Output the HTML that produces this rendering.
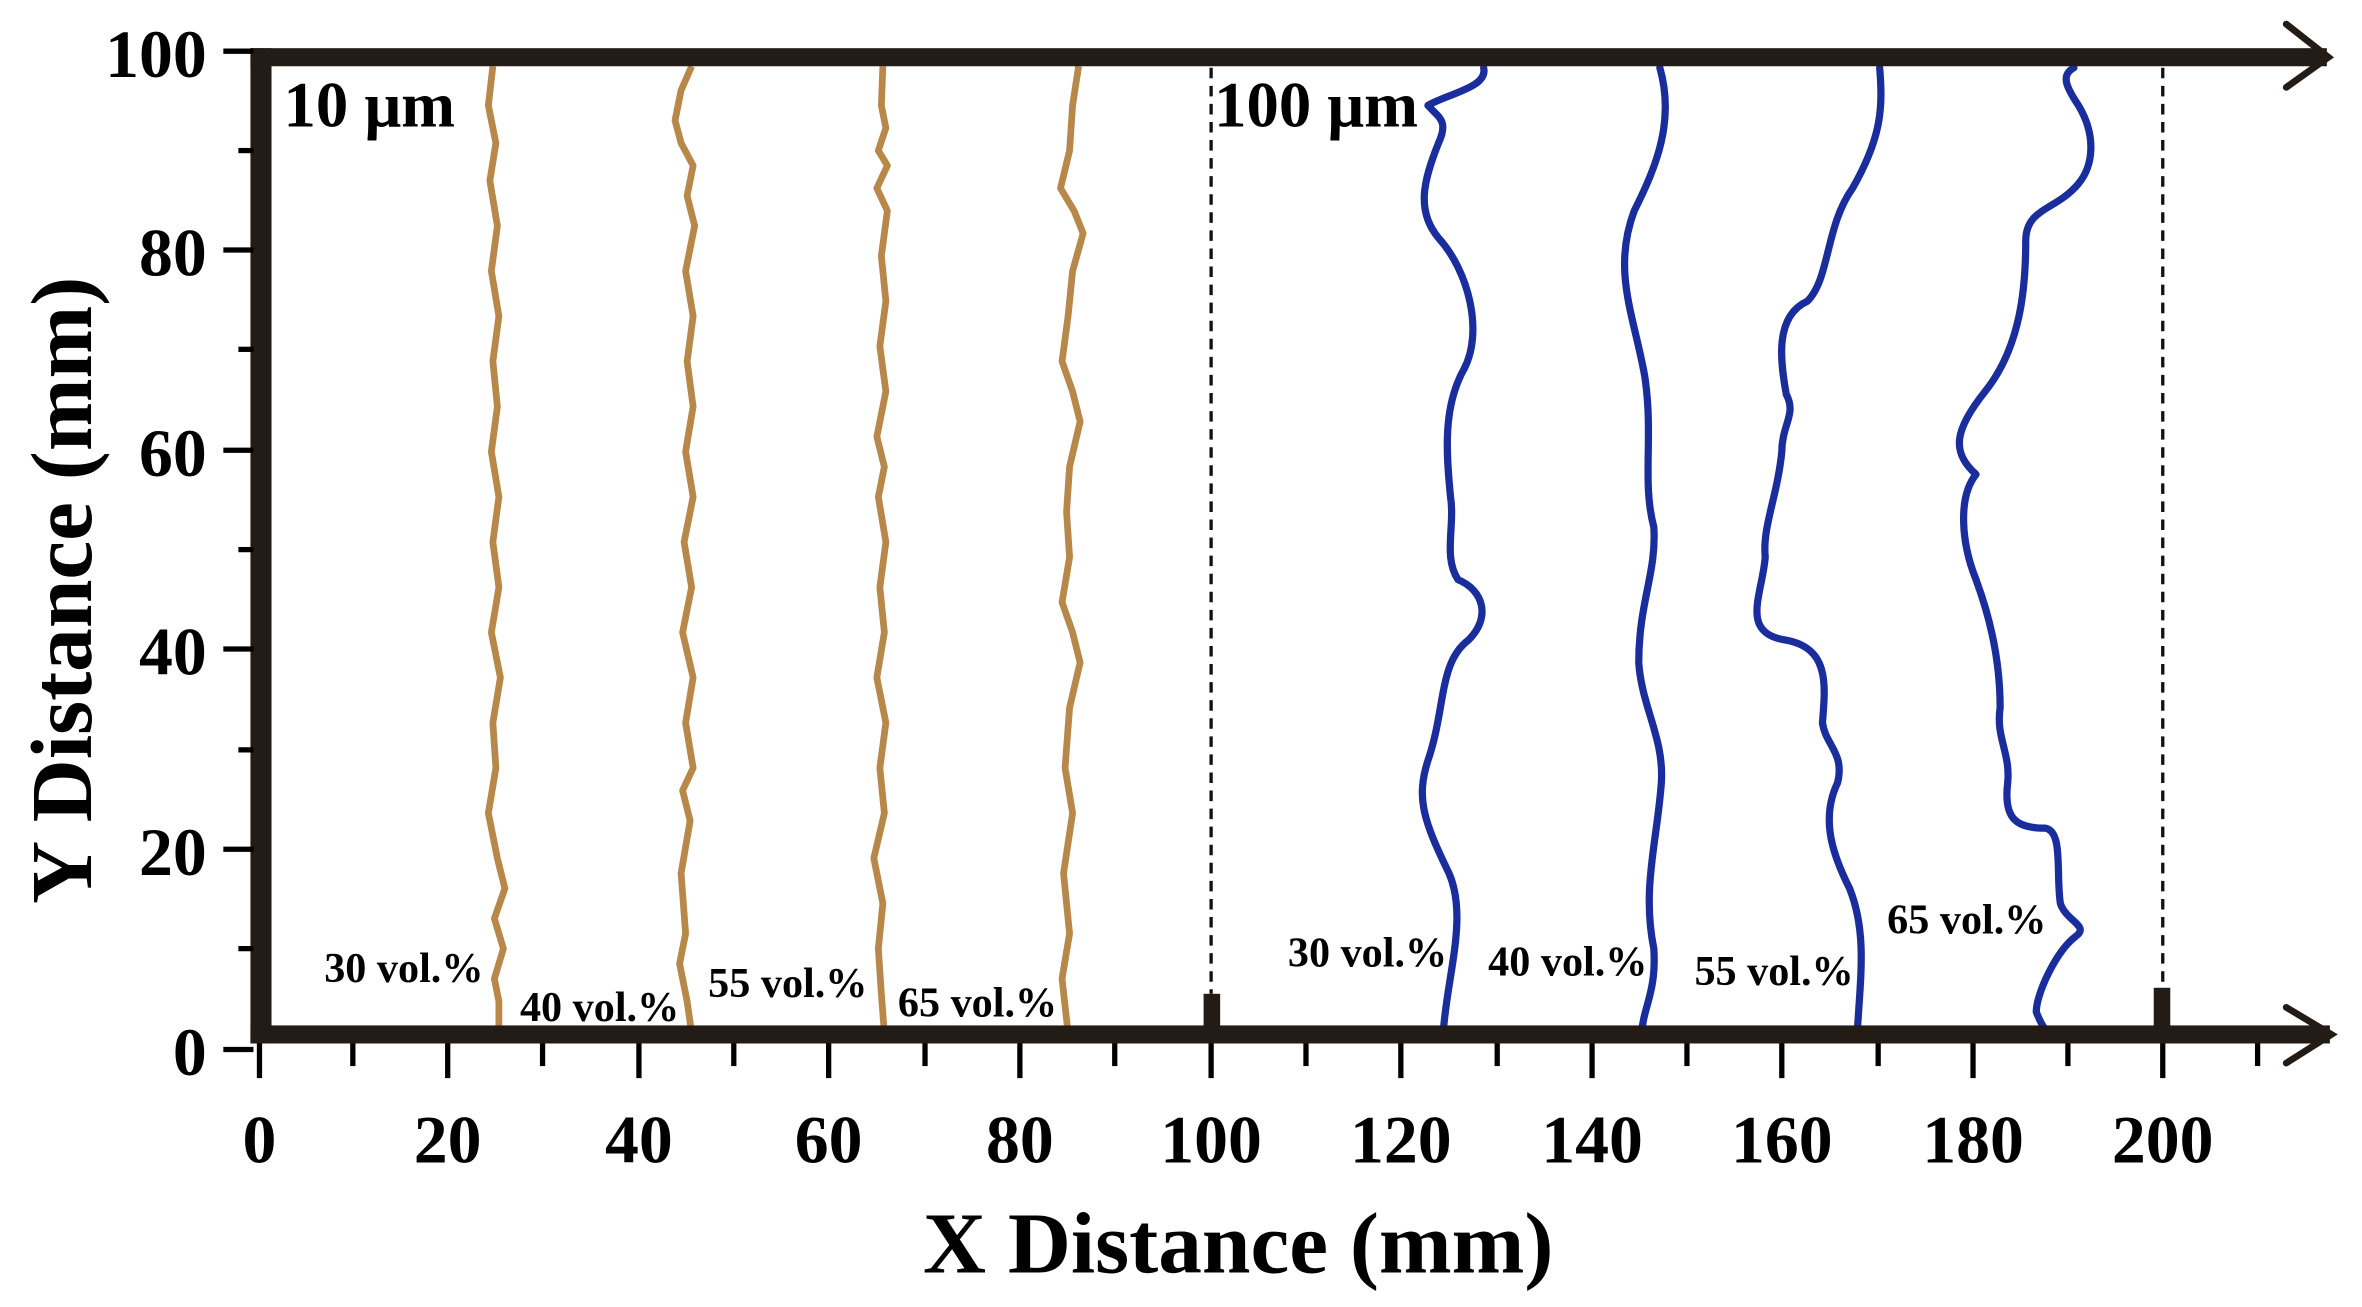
<!DOCTYPE html>
<html><head><meta charset="utf-8"><style>
html,body{margin:0;padding:0;background:#fff;}
svg{display:block;}
text{font-family:"Liberation Serif",serif;font-weight:bold;fill:#000;}
</style></head><body>
<svg width="2362" height="1307" viewBox="0 0 1568 868" xmlns="http://www.w3.org/2000/svg">
<!-- dashed lines -->
<line x1="804" y1="45" x2="804" y2="660" stroke="#111" stroke-width="2.2" stroke-dasharray="7,5"/>
<line x1="1436" y1="45" x2="1436" y2="656" stroke="#111" stroke-width="2.2" stroke-dasharray="7,5"/>
<rect x="799" y="660" width="11" height="28" fill="#231b16"/>
<rect x="1430" y="656" width="11" height="32" fill="#231b16"/>
<!-- brown curves -->
<g fill="none" stroke="#b8884a" stroke-width="4.5" stroke-linejoin="round">
<polyline points="327,44 324,70 329,95 325,120 330,150 326,180 331,210 327,240 330,270 326,300 331,330 327,360 331,390 326,420 332,450 327,480 329,510 324,540 330,570 335,590 328,610 334,630 328,650 331,665 331,686"/>
<polyline points="459,44 452,60 448,80 452,95 460,110 456,130 461,150 455,180 460,210 456,240 460,270 455,300 460,330 454,360 459,390 453,420 460,450 455,480 460,510 453,525 458,545 452,580 455,620 451,640 456,665 459,686"/>
<polyline points="586,44 585,70 588,85 583,100 589,110 582,125 589,140 585,170 588,200 584,230 588,260 582,290 587,310 583,330 588,360 584,390 587,420 582,450 588,480 584,510 587,540 580,570 586,600 583,630 585,660 587,686"/>
<polyline points="716,44 712,70 710,100 704,125 713,140 719,155 712,180 709,210 705,240 712,260 717,280 710,310 708,340 710,370 705,400 712,420 717,440 710,470 707,510 712,540 706,580 710,620 705,650 709,686"/>
</g>
<!-- blue curves -->
<g fill="none" stroke="#1a2d9c" stroke-width="4.8" stroke-linejoin="round" stroke-linecap="round">
<path d="M985,45 C988,58 962,62 948,70 C955,78 962,80 955,95 C945,120 940,140 955,158 C975,180 985,220 972,245 C958,270 960,300 963,330 C966,350 958,370 968,385 C985,392 990,410 975,425 C955,440 960,470 948,505 C940,530 945,545 962,580 C975,610 960,650 958,688"/>
<path d="M1102,45 C1112,80 1100,110 1085,140 C1070,180 1085,210 1092,250 C1098,290 1090,320 1098,350 C1100,380 1088,400 1088,440 C1090,470 1105,490 1103,520 C1100,560 1090,590 1098,630 C1100,660 1090,670 1090,688"/>
<path d="M1248,45 C1250,70 1250,90 1230,125 C1212,150 1215,185 1200,200 C1178,210 1182,240 1186,262 C1193,275 1183,282 1183,300 C1180,330 1170,350 1172,370 C1170,395 1155,420 1185,425 C1215,430 1212,455 1210,480 C1212,495 1225,500 1220,520 C1208,545 1218,570 1228,590 C1240,620 1235,650 1233,688"/>
<path d="M1377,45 C1368,50 1372,58 1380,70 C1392,90 1390,110 1380,122 C1365,140 1345,138 1345,160 C1345,190 1342,230 1318,260 C1298,285 1295,300 1312,315 C1300,330 1302,360 1312,385 C1325,420 1328,450 1328,470 C1325,490 1335,500 1333,520 C1330,545 1340,550 1358,550 C1370,552 1365,580 1368,600 C1372,612 1388,615 1378,622 C1365,632 1352,660 1352,672 C1355,680 1358,684 1360,686"/>
</g>
<!-- axes -->
<g fill="#231b16">
<rect x="166" y="32" width="1379" height="12"/>
<rect x="166" y="681" width="1381" height="12"/>
<rect x="166" y="32" width="14" height="661"/>
</g>
<g stroke="#231b16" stroke-width="4.5" fill="none" stroke-linecap="round">
<polyline points="1518,16 1546,38 1518,58"/>
<polyline points="1518,669 1548,687 1518,706"/>
</g>
<!-- y ticks -->
<g stroke="#000" stroke-width="3.5">
<line x1="148" y1="34" x2="168" y2="34"/><line x1="158" y1="100" x2="168" y2="100"/>
<line x1="148" y1="166" x2="168" y2="166"/><line x1="158" y1="232" x2="168" y2="232"/>
<line x1="148" y1="299" x2="168" y2="299"/><line x1="158" y1="365" x2="168" y2="365"/>
<line x1="148" y1="431" x2="168" y2="431"/><line x1="158" y1="498" x2="168" y2="498"/>
<line x1="148" y1="564" x2="168" y2="564"/><line x1="158" y1="630" x2="168" y2="630"/>
<line x1="148" y1="697" x2="168" y2="697"/>
</g>
<!-- x ticks -->
<g stroke="#000" stroke-width="3.5">
<line x1="172" y1="693" x2="172" y2="716"/><line x1="234" y1="693" x2="234" y2="708"/>
<line x1="297" y1="693" x2="297" y2="716"/><line x1="360" y1="693" x2="360" y2="708"/>
<line x1="424" y1="693" x2="424" y2="716"/><line x1="487" y1="693" x2="487" y2="708"/>
<line x1="550" y1="693" x2="550" y2="716"/><line x1="614" y1="693" x2="614" y2="708"/>
<line x1="677" y1="693" x2="677" y2="716"/><line x1="740" y1="693" x2="740" y2="708"/>
<line x1="804" y1="693" x2="804" y2="716"/><line x1="867" y1="693" x2="867" y2="708"/>
<line x1="930" y1="693" x2="930" y2="716"/><line x1="994" y1="693" x2="994" y2="708"/>
<line x1="1057" y1="693" x2="1057" y2="716"/><line x1="1120" y1="693" x2="1120" y2="708"/>
<line x1="1183" y1="693" x2="1183" y2="716"/><line x1="1247" y1="693" x2="1247" y2="708"/>
<line x1="1310" y1="693" x2="1310" y2="716"/><line x1="1373" y1="693" x2="1373" y2="708"/>
<line x1="1436" y1="693" x2="1436" y2="716"/><line x1="1499" y1="693" x2="1499" y2="708"/>
</g>
<!-- y labels -->
<g font-size="45" text-anchor="end">
<text x="137" y="51">100</text><text x="137" y="183">80</text><text x="137" y="316">60</text>
<text x="137" y="448">40</text><text x="137" y="581">20</text><text x="137" y="714">0</text>
</g>
<g font-size="45" text-anchor="middle">
<text x="172" y="772">0</text><text x="297" y="772">20</text><text x="424" y="772">40</text>
<text x="550" y="772">60</text><text x="677" y="772">80</text><text x="804" y="772">100</text>
<text x="930" y="772">120</text><text x="1057" y="772">140</text><text x="1183" y="772">160</text>
<text x="1310" y="772">180</text><text x="1436" y="772">200</text>
</g>
<text x="822" y="845" font-size="58" text-anchor="middle">X Distance (mm)</text>
<text transform="translate(60,392) rotate(-90)" font-size="58" text-anchor="middle">Y Distance (mm)</text>
<text x="188" y="84" font-size="43">10 μm</text>
<text x="806" y="84" font-size="43">100 μm</text>
<g font-size="28">
<text x="215" y="652">30 vol.%</text><text x="345" y="678">40 vol.%</text>
<text x="470" y="662">55 vol.%</text><text x="596" y="675">65 vol.%</text>
<text x="855" y="642">30 vol.%</text><text x="988" y="648">40 vol.%</text>
<text x="1125" y="654">55 vol.%</text><text x="1253" y="620">65 vol.%</text>
</g>
</svg>
</body></html>
